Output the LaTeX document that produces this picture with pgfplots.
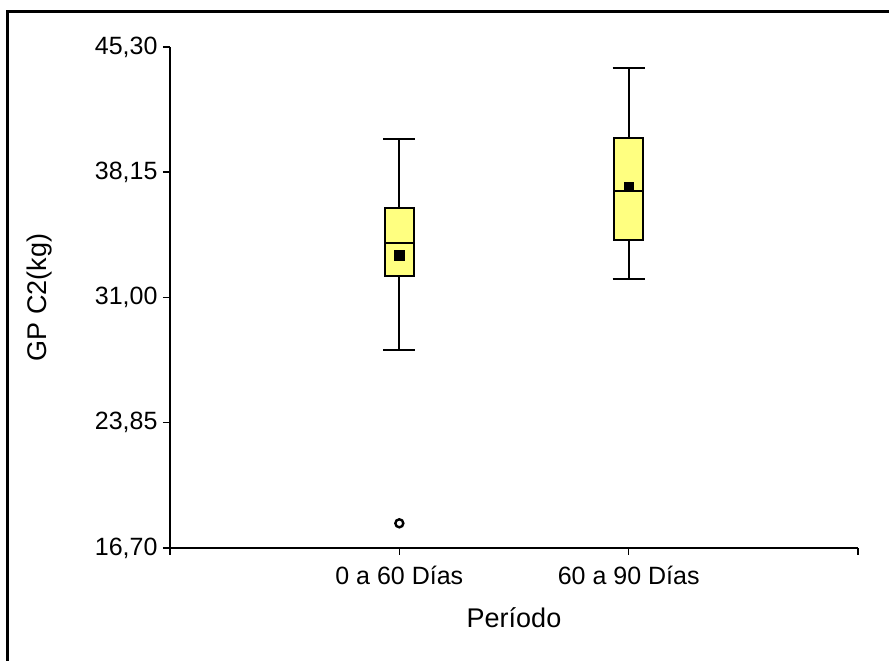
\documentclass[border=0pt]{standalone}
\usepackage{fontspec}
\setmainfont{Liberation Sans}
\usepackage{pgfplots}
\pgfplotsset{compat=1.18}
\usepgfplotslibrary{statistics}
\definecolor{boxfill}{RGB}{255,255,128}
\begin{document}
\begin{tikzpicture}[x=1pt,y=1pt]
\useasboundingbox (0,0) rectangle (889,661);
% outer frame (cut off at right and bottom in the reference)
\draw[line width=3pt] (7,0) -- (7,649) -- (889,649);
\begin{axis}[
    at={(170pt,113pt)}, anchor=south west,
    scale only axis, width=688pt, height=501pt,
    axis lines*=left,
    axis line style={line width=2pt},
    xmin=0, xmax=3, ymin=16.70, ymax=45.30,
    xtick={0,1,2,3},
    xticklabels={,0 a 60 Días,60 a 90 Días,},
    ytick={16.70,23.85,31.00,38.15,45.30},
    yticklabels={{16,70},{23,85},{31,00},{38,15},{45,30}},
    tick align=outside,
    major tick length=7pt,
    tick style={line width=1.5pt, black},
    ticklabel style={font=\fontsize{25}{29}\selectfont},
    yticklabel style={xshift=-2pt},
    xticklabel style={yshift=-8pt},
    xlabel={Período}, ylabel={GP C2(kg)},
    label style={font=\fontsize{27}{32}\selectfont},
    xlabel style={at={(axis description cs:0.5,-0.14)}, anchor=center},
    ylabel style={at={(axis description cs:-0.189,0.5)}, anchor=center},
    clip=false,
    boxplot/draw direction=y,
    boxplot/every average/.style={/tikz/mark=square*, /tikz/mark size=4.8pt, /tikz/fill=black},
    boxplot/every box/.style={draw=black, line width=2pt, fill=boxfill},
    boxplot/every whisker/.style={black, line width=2pt},
    boxplot/every median/.style={black, line width=2pt},
]
\addplot[black, mark=o, mark size=4pt, mark options={line width=2.4pt},
  boxplot prepared={draw position=1,
    lower whisker=28.01, lower quartile=32.23, median=34.10,
    upper quartile=36.09, upper whisker=40.07, average=33.41,
    box extend=0.127, whisker extend=0.14}]
  coordinates {(0,18.11)};
\addplot[black,
  boxplot prepared={draw position=2,
    lower whisker=32.04, lower quartile=34.28, median=37.06,
    upper quartile=40.12, upper whisker=44.08, average=37.33,
    box extend=0.127, whisker extend=0.14}]
  coordinates {};
\end{axis}
\end{tikzpicture}
\end{document}
